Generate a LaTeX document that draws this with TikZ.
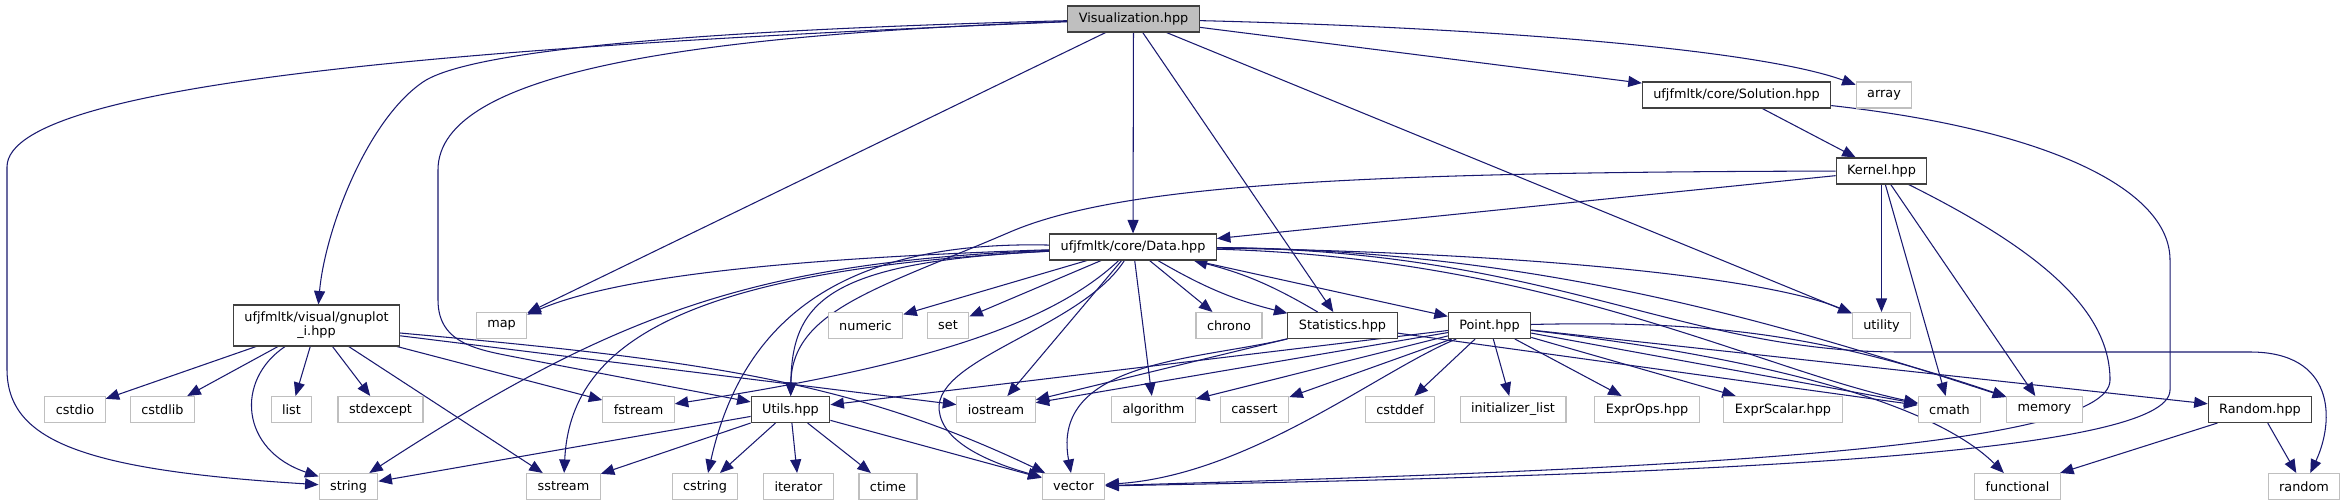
\documentclass[tikz,border=0pt]{standalone}
\usepackage{fontspec}
\usetikzlibrary{arrows.meta,backgrounds}
\newfontfamily\dgfont{DejaVu Sans}
\definecolor{midnight}{HTML}{191970}
\definecolor{frame}{HTML}{404040}
\definecolor{sysframe}{HTML}{BFBFBF}
\definecolor{rootfill}{HTML}{BFBFBF}

\begin{document}
\begin{tikzpicture}[
 x=0.02cm,y=-0.02cm,
 box/.style={draw=frame,line width=0.6pt,fill=white,minimum height=0.52cm,inner xsep=0.22cm,inner ysep=0pt,align=center,font=\dgfont\fontsize{7.3}{8}\selectfont},
 sysbox/.style={box,draw=sysframe},
 rootbox/.style={box,fill=rootfill},
 arr/.style={-{Triangle[length=0.27cm,width=0.22cm]},line width=0.6pt,draw=midnight}
]
\useasboundingbox (0,0) rectangle (2346,500);
% row 0 to 3
\node[rootbox] (vis) at (1133.5,19) {Visualization.hpp};
\node[box] (solution) at (1736.5,95) {ufjfmltk/core/Solution.hpp};
\node[sysbox] (array) at (1884,95) {array};
\node[box] (kernel) at (1881.5,171) {Kernel.hpp};
\node[box] (data) at (1133,247) {ufjfmltk/core/Data.hpp};
% row 4
\node[box,minimum height=0.82cm] (gnuplot) at (316.5,325.5) {ufjfmltk/visual/gnuplot\\\_i.hpp};
\node[sysbox] (map) at (501.5,325.5) {map};
\node[sysbox] (numeric) at (865.5,325.5) {numeric};
\node[sysbox] (set) at (948,325.5) {set};
\node[sysbox] (chrono) at (1229,325.5) {chrono};
\node[box] (stats) at (1342.5,325.5) {Statistics.hpp};
\node[box] (point) at (1489.5,325.5) {Point.hpp};
\node[sysbox] (utility) at (1881.5,325.5) {utility};
% row 5
\node[sysbox] (cstdio) at (75,409.5) {cstdio};
\node[sysbox] (cstdlib) at (162.5,409.5) {cstdlib};
\node[sysbox] (list) at (291.5,409.5) {list};
\node[sysbox] (stdexcept) at (380.5,409.5) {stdexcept};
\node[sysbox] (fstream) at (638.5,409.5) {fstream};
\node[box] (utils) at (790.5,409.5) {Utils.hpp};
\node[sysbox] (iostream) at (996,409.5) {iostream};
\node[sysbox] (algorithm) at (1153.5,409.5) {algorithm};
\node[sysbox] (cassert) at (1254.5,409.5) {cassert};
\node[sysbox] (cstddef) at (1400,409.5) {cstddef};
\node[sysbox] (initlist) at (1513,409.5) {initializer\_list};
\node[sysbox] (exprops) at (1647,409.5) {ExprOps.hpp};
\node[sysbox] (exprscalar) at (1783,409.5) {ExprScalar.hpp};
\node[sysbox] (cmath) at (1949.5,409.5) {cmath};
\node[sysbox] (memory) at (2044.5,409.5) {memory};
\node[box] (rnd) at (2260,409.5) {Random.hpp};
% row 6
\node[sysbox] (string) at (348.5,486.5) {string};
\node[sysbox] (sstream) at (563.5,486.5) {sstream};
\node[sysbox] (cstring) at (705,486.5) {cstring};
\node[sysbox] (iterator) at (798.5,486.5) {iterator};
\node[sysbox] (ctime) at (888,486.5) {ctime};
\node[sysbox] (vector) at (1073.5,486.5) {vector};
\node[sysbox] (functional) at (2017.5,486.5) {functional};
\node[sysbox] (randomlib) at (2304,486.5) {random};

\begin{scope}[on background layer]
\fill[white] (0,0) rectangle (2346,500);
% Visualization.hpp
\draw[arr] (vis) .. controls (500,45) and (7,80) .. (7,167) -- (7,369) .. controls (7,440) and (80,470) .. (string);
\draw[arr] (vis) .. controls (700,30) and (470,50) .. (423,82) .. controls (367,120) and (325,230) .. (gnuplot);
\draw[arr] (vis) .. controls (700,35) and (438,70) .. (438,170) -- (438,300) .. controls (438,345) and (480,350) .. (520,358) -- (utils);
\draw[arr] (vis) -- (map);
\draw[arr] (vis) -- (data);
\draw[arr] (vis) -- (stats);
\draw[arr] (vis) -- (utility);
\draw[arr] (vis) -- (solution);
\draw[arr] (vis) .. controls (1500,28) and (1760,50) .. (array);
% Solution.hpp, Kernel.hpp
\draw[arr] (solution) -- (kernel);
\draw[arr] (solution) .. controls (2050,130) and (2170,190) .. (2170,260) -- (2170,390) .. controls (2170,455) and (1700,475) .. (vector);
\draw[arr] (kernel) -- (data);
\draw[arr] (kernel) .. controls (1350,172) and (1120,185) .. (1010,232) .. controls (880,288) and (792,310) .. (utils);
\draw[arr] (kernel) -- (utility);
\draw[arr] (kernel) -- (cmath);
\draw[arr] (kernel) -- (memory);
\draw[arr] (kernel) .. controls (2040,250) and (2110,310) .. (2110,380) .. controls (2110,450) and (1650,470) .. (vector);
% Data.hpp
\draw[arr] (data) .. controls (800,258) and (620,275) .. (map);
\draw[arr] (data) .. controls (760,262) and (620,310) .. (string);
\draw[arr] (data) .. controls (680,270) and (570,345) .. (sstream);
\draw[arr] (data) .. controls (830,240) and (740,330) .. (cstring);
\draw[arr] (data) .. controls (830,262) and (792,300) .. (utils);
\draw[arr] (data) .. controls (1040,335) and (880,372) .. (fstream);
\draw[arr] (data) -- (iostream);
\draw[arr] (data) .. controls (1080,330) and (925,360) .. (940,415) .. controls (948,450) and (1010,468) .. (vector);
\draw[arr] (data) -- (algorithm);
\draw[arr] (data) -- (numeric);
\draw[arr] (data) -- (set);
\draw[arr] (data) -- (chrono);
\draw[arr] (data) to[bend right=8] (stats);
\draw[arr] (data) -- (point);
\draw[arr] (data) .. controls (1500,252) and (1760,275) .. (utility);
\draw[arr] (data) .. controls (1550,258) and (1760,370) .. (cmath);
\draw[arr] (data) .. controls (1550,250) and (1800,330) .. (memory);
\draw[arr] (data) .. controls (1550,250) and (1680,352) .. (1900,352) -- (2250,352) .. controls (2335,352) and (2335,420) .. (randomlib);
% Statistics.hpp
\draw[arr] (stats) to[bend right=8] (data);
\draw[arr] (stats) -- (iostream);
\draw[arr] (stats) .. controls (1200,360) and (1050,360) .. (vector);
\draw[arr] (stats) -- (cmath);
% Point.hpp
\draw[arr] (point) -- (utils);
\draw[arr] (point) -- (iostream);
\draw[arr] (point) -- (algorithm);
\draw[arr] (point) -- (cassert);
\draw[arr] (point) -- (cstddef);
\draw[arr] (point) -- (initlist);
\draw[arr] (point) .. controls (1380,370) and (1250,475) .. (vector);
\draw[arr] (point) -- (exprops);
\draw[arr] (point) -- (exprscalar);
\draw[arr] (point) -- (cmath);
\draw[arr] (point) to[bend left=10] (memory);
\draw[arr] (point) -- (rnd);
\draw[arr] (point) .. controls (1700,350) and (1920,390) .. (functional);
% Utils.hpp
\draw[arr] (utils) -- (string);
\draw[arr] (utils) -- (sstream);
\draw[arr] (utils) -- (cstring);
\draw[arr] (utils) -- (iterator);
\draw[arr] (utils) -- (ctime);
\draw[arr] (utils) -- (vector);
% gnuplot_i.hpp
\draw[arr] (gnuplot) -- (cstdio);
\draw[arr] (gnuplot) -- (cstdlib);
\draw[arr] (gnuplot) .. controls (235,380) and (240,450) .. (string);
\draw[arr] (gnuplot) -- (list);
\draw[arr] (gnuplot) -- (stdexcept);
\draw[arr] (gnuplot) -- (sstream);
\draw[arr] (gnuplot) -- (fstream);
\draw[arr] (gnuplot) -- (iostream);
\draw[arr] (gnuplot) .. controls (700,360) and (850,380) .. (vector);
% Random.hpp
\draw[arr] (rnd) -- (functional);
\draw[arr] (rnd) -- (randomlib);
\end{scope}
\end{tikzpicture}
\end{document}
